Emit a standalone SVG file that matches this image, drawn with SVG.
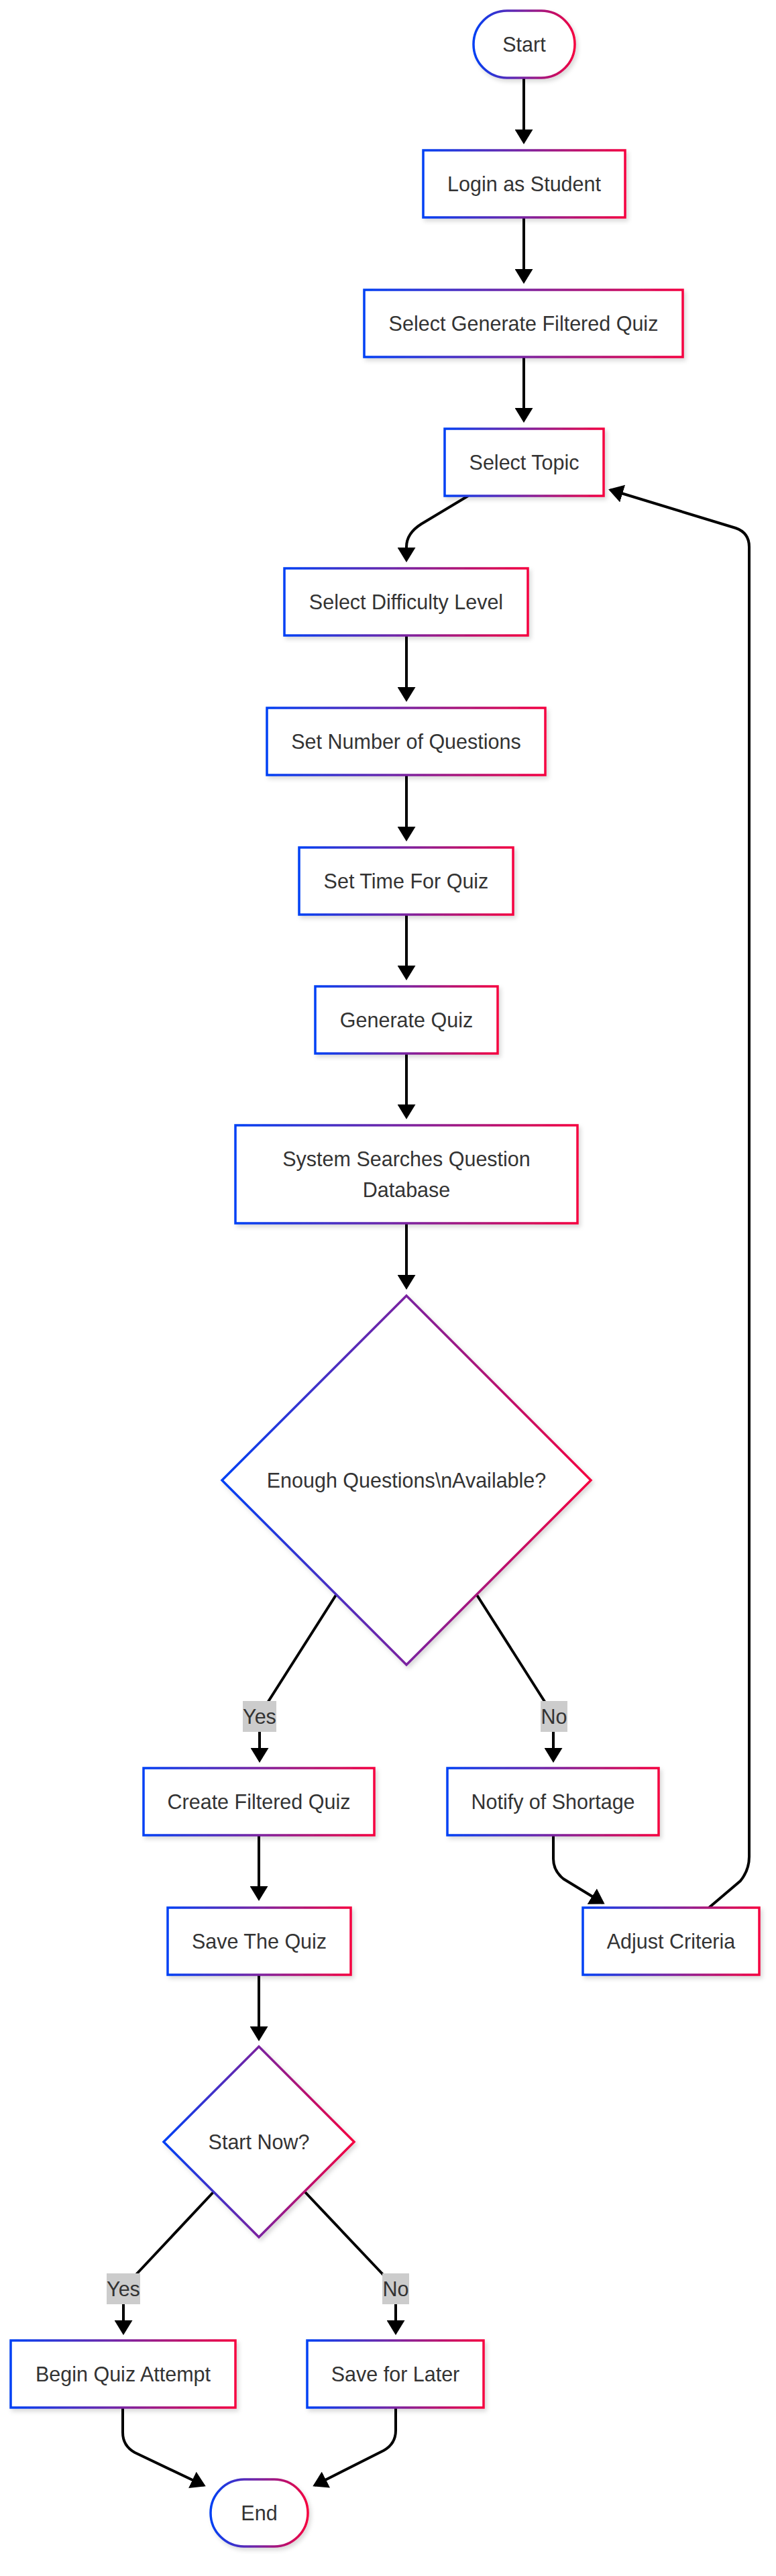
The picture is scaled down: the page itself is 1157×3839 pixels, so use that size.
<svg xmlns="http://www.w3.org/2000/svg" width="1157" height="3839" viewBox="0 0 1157 3839">
<style>
.node{fill:#ffffff;stroke:url(#grad);stroke-width:3.5;filter:url(#shadow);}
.t{font-family:"Liberation Sans",Arial,Helvetica,sans-serif;font-size:30.5px;fill:#333333;text-anchor:middle;}
.edge{fill:none;stroke:#000000;stroke-width:4;marker-end:url(#arrow);}
.lbl{fill:#cccccc;}
</style>
<defs>
<linearGradient id="grad" x1="0" y1="0" x2="1" y2="0">
<stop offset="0" stop-color="#0040f5"/>
<stop offset="0.5" stop-color="#7a22a0"/>
<stop offset="1" stop-color="#f5003f"/>
</linearGradient>
<filter id="shadow" x="-10%" y="-10%" width="125%" height="130%">
<feDropShadow dx="3" dy="4" stdDeviation="3" flood-color="#000000" flood-opacity="0.15"/>
</filter>
<marker id="arrow" markerUnits="userSpaceOnUse" markerWidth="22" markerHeight="27" viewBox="0 0 22 27" refX="19" refY="13.5" orient="auto">
<path d="M0,0 L22,13.5 L0,27 z" fill="#000000"/>
</marker>
</defs>
<rect x="0" y="0" width="1157" height="3839" fill="#ffffff"/>
<g id="connectors">
<path class="edge" d="M781,117 L781,212"/>
<path class="edge" d="M781,324 L781,420"/>
<path class="edge" d="M781,532 L781,627"/>
<path class="edge" d="M698,739 L628,781 Q606,795 606,815 L606,835"/>
<path class="edge" d="M606,947 L606,1043"/>
<path class="edge" d="M606,1155 L606,1251"/>
<path class="edge" d="M606,1363 L606,1458"/>
<path class="edge" d="M606,1570 L606,1665"/>
<path class="edge" d="M606,1823 L606,1919"/>
<path class="edge" d="M501,2377 L396,2542 Q387,2556 387,2572 L387,2624"/>
<path class="edge" d="M711,2377 L816,2542 Q825,2556 825,2572 L825,2624"/>
<path class="edge" d="M386,2735 L386,2830"/>
<path class="edge" d="M825,2735 L825,2770 Q825,2788 840,2800 L899,2836"/>
<path class="edge" d="M1057,2843 L1104,2803 Q1117,2787 1117,2767 L1117,815 Q1117,794 1097,787 L910,730"/>
<path class="edge" d="M386,2943 L386,3039"/>
<path class="edge" d="M318,3267 L197,3396 Q184,3410 184,3428 L184,3477"/>
<path class="edge" d="M455,3267 L577,3396 Q590,3410 590,3428 L590,3477"/>
<path class="edge" d="M183,3588 L183,3625 Q183,3645 201,3655 L304,3704"/>
<path class="edge" d="M590,3588 L590,3622 Q590,3642 572,3652 L469,3704"/>
<g id="label-yes-1"><rect class="lbl" x="362" y="2535" width="50" height="46"/><text class="t" x="387" y="2569">Yes</text></g>
<g id="label-no-1"><rect class="lbl" x="806" y="2535" width="40" height="46"/><text class="t" x="826" y="2569">No</text></g>
<g id="label-yes-2"><rect class="lbl" x="159" y="3388" width="50" height="46"/><text class="t" x="184" y="3422">Yes</text></g>
<g id="label-no-2"><rect class="lbl" x="570" y="3388" width="40" height="46"/><text class="t" x="590" y="3422">No</text></g>
</g>
<g id="start"><rect class="node" x="706" y="16" width="151" height="100" rx="50" ry="50"/><text class="t" x="781.5" y="77">Start</text></g>
<g id="login"><rect class="node" x="631" y="224" width="301" height="100"/><text class="t" x="781.5" y="285">Login as Student</text></g>
<g id="select-generate"><rect class="node" x="543" y="432" width="475" height="100"/><text class="t" x="780.5" y="493">Select Generate Filtered Quiz</text></g>
<g id="select-topic"><rect class="node" x="663" y="639" width="237" height="100"/><text class="t" x="781.5" y="700">Select Topic</text></g>
<g id="select-difficulty"><rect class="node" x="424" y="847" width="363" height="100"/><text class="t" x="605.5" y="908">Select Difficulty Level</text></g>
<g id="set-number"><rect class="node" x="398" y="1055" width="415" height="100"/><text class="t" x="605.5" y="1116">Set Number of Questions</text></g>
<g id="set-time"><rect class="node" x="446" y="1263" width="319" height="100"/><text class="t" x="605.5" y="1324">Set Time For Quiz</text></g>
<g id="generate-quiz"><rect class="node" x="470" y="1470" width="272" height="100"/><text class="t" x="606" y="1531">Generate Quiz</text></g>
<g id="system-searches"><rect class="node" x="351" y="1677" width="510" height="146"/><text class="t" x="606" y="1738">System Searches Question</text><text class="t" x="606" y="1784">Database</text></g>
<g id="enough-questions"><polygon class="node" points="606,1931 881,2206 606,2481 331,2206"/><text class="t" x="606" y="2217">Enough Questions\nAvailable?</text></g>
<g id="create-filtered"><rect class="node" x="214" y="2635" width="344" height="100"/><text class="t" x="386" y="2696">Create Filtered Quiz</text></g>
<g id="notify-shortage"><rect class="node" x="667" y="2635" width="315" height="100"/><text class="t" x="824.5" y="2696">Notify of Shortage</text></g>
<g id="save-quiz"><rect class="node" x="250" y="2843" width="273" height="100"/><text class="t" x="386.5" y="2904">Save The Quiz</text></g>
<g id="adjust-criteria"><rect class="node" x="869" y="2843" width="263" height="100"/><text class="t" x="1000.5" y="2904">Adjust Criteria</text></g>
<g id="start-now"><polygon class="node" points="386,3050 528,3192 386,3334 244,3192"/><text class="t" x="386" y="3203">Start Now?</text></g>
<g id="begin-quiz"><rect class="node" x="16" y="3488" width="335" height="100"/><text class="t" x="183.5" y="3549">Begin Quiz Attempt</text></g>
<g id="save-later"><rect class="node" x="458" y="3488" width="263" height="100"/><text class="t" x="589.5" y="3549">Save for Later</text></g>
<g id="end"><rect class="node" x="314" y="3695" width="145" height="100" rx="50" ry="50"/><text class="t" x="386.5" y="3756">End</text></g>
</svg>
